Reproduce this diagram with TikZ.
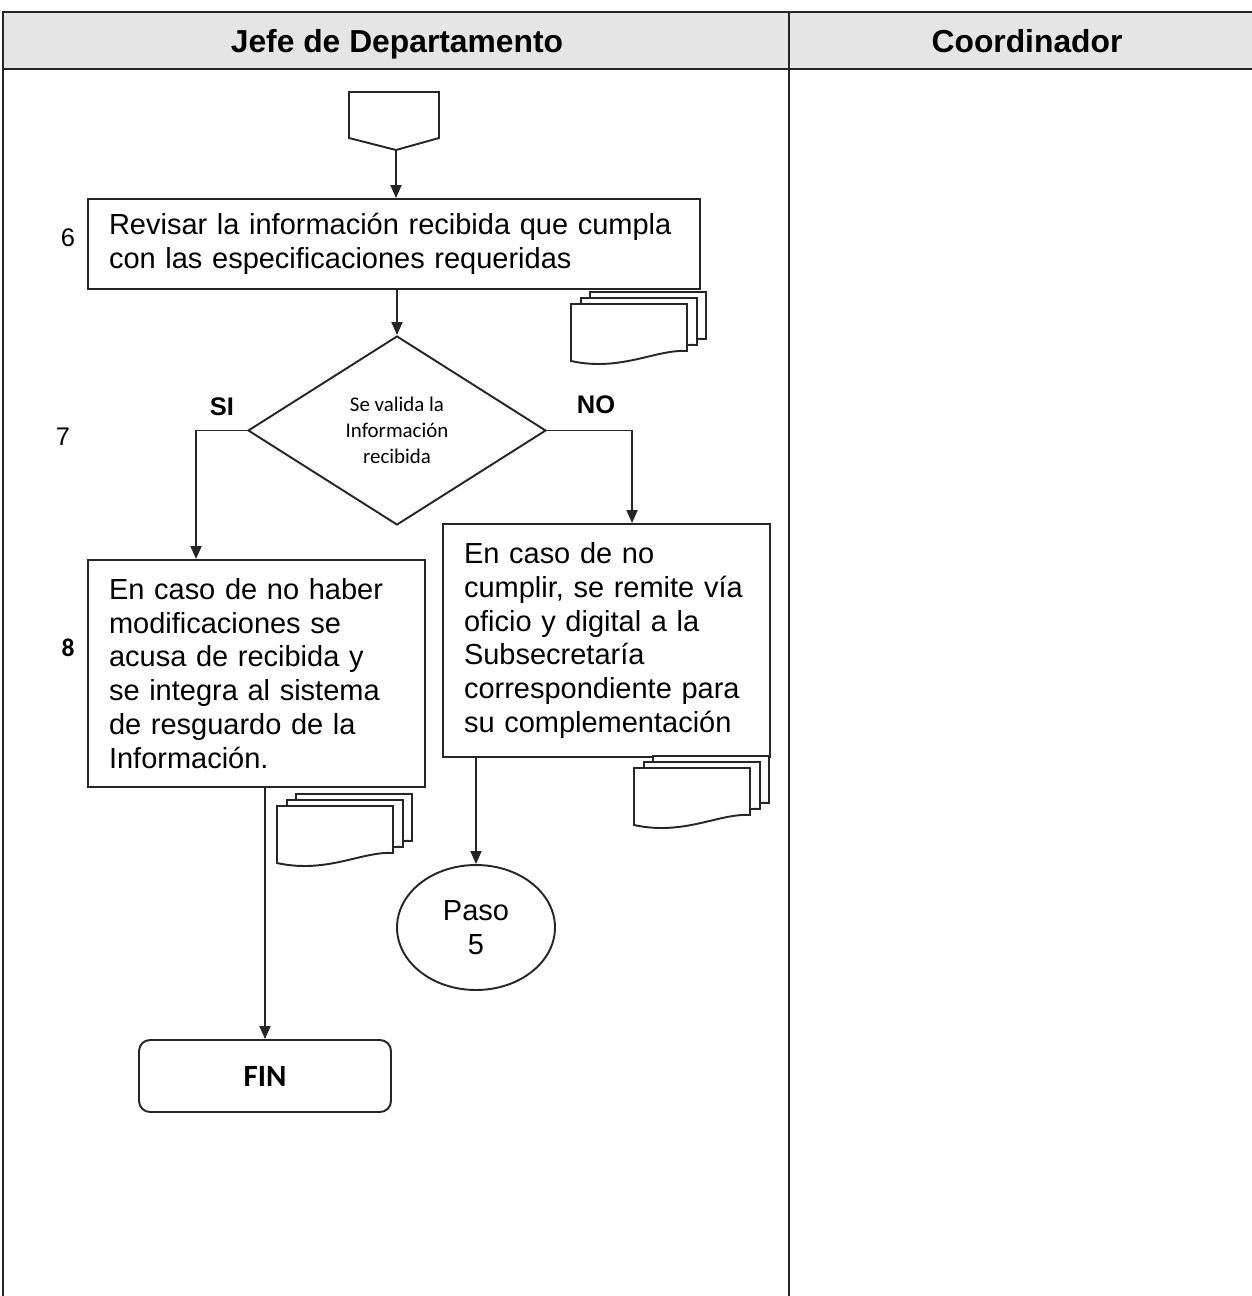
\documentclass[tikz,border=0pt]{standalone}
\usepackage{fontspec}
\setmainfont{Liberation Sans}
\newfontfamily\calibri{Carlito}
\usetikzlibrary{shapes.geometric,arrows.meta}

\tikzset{
  linea/.style={draw=black!85, line width=1.1pt},
  caja/.style={linea, fill=white, align=left, inner xsep=0.42cm, inner ysep=0pt,
    font=\fontsize{16.5}{19.3}\selectfont},
  titulo/.style={anchor=base, font=\fontsize{18.1}{20}\selectfont\bfseries},
  flecha/.style={linea, -{Triangle[length=0.26cm,width=0.22cm]}},
  hoja/.style={linea, fill=white},
  docs/.pic={
    \foreach \dx/\dy in {19/-12, 10/-6, 0/0}
      \draw[hoja, shift={(\dx,\dy)}] (0,0) -- (116,0) -- (116,47)
        .. controls (85,45) and (50,68) .. (0,57) -- cycle;
  }
}

\begin{document}
\begin{tikzpicture}[x=0.02cm, y=-0.02cm]
  \useasboundingbox (0,0) rectangle (1252,1296);
  % encabezado de la tabla
  \fill[black!10] (3,12) rectangle (1252,69);
  \draw[linea] (1252,12) -- (3,12) -- (3,1296);
  \draw[linea] (3,69) -- (1252,69);
  \draw[linea] (789,12) -- (789,1296);
  \node[titulo] (jefe) at (397,52) {Jefe de Departamento};
  \node[titulo] (coord) at (1027,52) {Coordinador};

  % conector de entrada
  \draw[linea] (349,92) -- (439,92) -- (439,138) -- (396,150) -- (349,138) -- cycle;
  \coordinate (conn) at (396,150);

  \node[caja, text width=11.40cm, minimum height=1.8cm] (revisar) at (394,244)
    {Revisar la información recibida que cumpla\\con las especificaciones requeridas};
  \node[diamond, linea, fill=white, minimum width=5.96cm, minimum height=3.78cm,
    inner sep=0pt, align=center, font=\calibri\fontsize{11.9}{14.7}\selectfont] (valida) at (397,430.5)
    {Se valida la\\Información\\recibida};
  \node[caja, text width=5.90cm, minimum height=4.54cm] (acusa) at (256.5,673.5)
    {En caso de no haber\\modificaciones se\\acusa de recibida y\\se integra al sistema\\de resguardo de la\\Información.};
  \node[caja, text width=5.70cm, minimum height=4.66cm] (remite) at (606.5,640.5)
    {En caso de no\\cumplir, se remite vía\\oficio y digital a la\\Subsecretaría\\correspondiente para\\su complementación};
  \node[ellipse, linea, minimum width=3.16cm, minimum height=2.5cm, inner sep=0pt,
    align=center, font=\fontsize{16.5}{19}\selectfont] (paso5) at (476,927.5) {Paso\\5};
  \node[linea, rounded corners=0.22cm, minimum width=5.04cm, minimum height=1.44cm,
    font=\calibri\bfseries\fontsize{17.6}{20}\selectfont] (fin) at (265,1076) {FIN};

  % numeros de paso y respuestas
  \node[font=\fontsize{14.5}{16}\selectfont] (n6) at (68,238) {6};
  \node[font=\fontsize{14.5}{16}\selectfont] (n7) at (63,437) {7};
  \node[font=\calibri\bfseries\fontsize{14.5}{16}\selectfont] (n8) at (68,648) {8};
  \node[anchor=base, font=\fontsize{14.5}{16}\selectfont\bfseries] (si) at (222,415) {SI};
  \node[anchor=base, font=\fontsize{14.5}{16}\selectfont\bfseries] (no) at (596,413) {NO};

  % documentos
  \pic at (571,304) {docs};
  \pic at (277,806) {docs};
  \pic at (634,768) {docs};

  \draw[flecha] (conn) -- (conn |- revisar.north);
  \draw[flecha] (revisar.south -| valida.north) -- (valida.north);
  \draw[flecha] (valida.west) -| ([xshift=2.18cm]acusa.north west);
  \draw[flecha] (valida.east) -| ([xshift=3.8cm]remite.north west);
  \draw[flecha] (remite.south -| paso5.north) -- (paso5.north);
  \draw[flecha] (acusa.south -| fin.north) -- (fin.north);
\end{tikzpicture}
\end{document}
